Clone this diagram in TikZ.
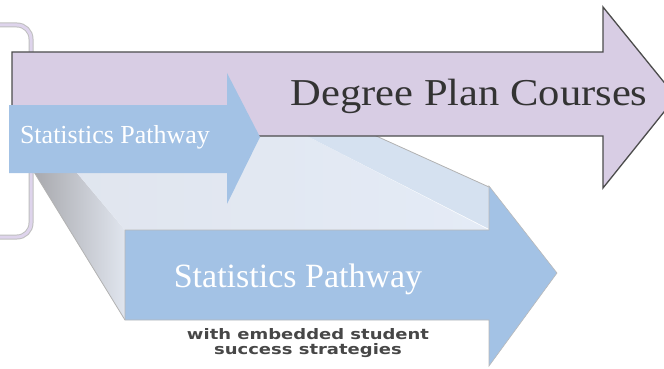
\documentclass[tikz,border=0pt]{standalone}
\usepackage{fontspec}
\setmainfont{Liberation Serif}
\newfontfamily\notefont{DejaVu Sans}
\usepackage{tikz}
\usetikzlibrary{
    positioning,
    calc,
    backgrounds
}
\definecolor{planpurple}{RGB}{216,205,228}
\definecolor{pathblue}{RGB}{163,194,229}
\definecolor{toplight}{RGB}{228,235,246}
\definecolor{headlight}{RGB}{213,225,240}
\definecolor{sidedark}{RGB}{158,158,162}
\definecolor{sidelight}{RGB}{224,229,238}
\definecolor{bracketlav}{RGB}{222,212,236}
\tikzset{
    planarrow/.style={
        draw=black!70, line width=1.3pt, fill=planpurple, line join=miter
    },
    patharrow/.style={
        fill=pathblue
    },
    frontface/.style={
        fill=pathblue, draw=gray!55, line width=0.6pt
    },
    edgeline/.style={
        draw=gray!60, line width=0.8pt
    },
    plantext/.style={
        font=\fontsize{38}{40}\selectfont, text=black!80, inner sep=0pt
    },
    pathtext/.style={
        text=white, inner sep=0pt
    }
}

\begin{document}
\begin{tikzpicture}[
    x=1pt, y=-1pt,
    bracketline/.style={line width=5pt, rounded corners=14pt},
    notetext/.style={font=\notefont\bfseries\fontsize{14.5}{15}\selectfont, text=black!72, inner sep=0pt}
]
    \useasboundingbox (0,0) rectangle (664,369);
    \clip (0,0) rectangle (664,369);

    % --- BRACKET ---
    \draw[bracketline, draw=gray!50] (-10,25) -- (31,25) -- (31,237) -- (-10,237);
    \draw[bracketline, line width=3pt, draw=bracketlav] (-10,25) -- (31,25) -- (31,237) -- (-10,237);

    % --- 3D EXTRUSION OF THE LOWER PATHWAY ---
    \shade[left color=sidedark, right color=sidelight] (125,230) -- (125,320) -- (18,146) -- (45,135) -- cycle;
    \shade[left color=sidelight, right color=toplight] (125,230) -- (489,230) -- (305,135) -- (45,135) -- cycle;
    \fill[headlight] (489,187) -- (489,229) -- (305,135) -- (374,135) -- cycle;
    \draw[edgeline] (374,135) -- (489,187);
    \draw[edgeline] (125,320) -- (18,146);

    % --- DEGREE PLAN ARROW ---
    \draw[planarrow] (12,52) -- (603,52) -- (603,7) -- (676,97) -- (603,188) -- (603,136) -- (12,136) -- cycle;
    \node[plantext, anchor=base] (plan) at (469,105) {\scalebox{1.12}[1]{Degree Plan Courses}};

    % --- UPPER PATHWAY ---
    \fill[patharrow] (9,105) -- (227,105) -- (227,73) -- (260,137) -- (227,204) -- (227,173) -- (9,173) -- cycle;
    \node[pathtext, font=\fontsize{26}{28}\selectfont, anchor=base] (path1) at (115,143) {Statistics Pathway};

    % --- LOWER PATHWAY (FRONT) ---
    \draw[frontface] (125,230) -- (489,230) -- (489,186) -- (557,273) -- (489,366) -- (489,320) -- (125,320) -- cycle;
    \node[pathtext, font=\fontsize{34}{36}\selectfont, anchor=base] (path2) at (298,287) {Statistics Pathway};

    % --- NOTE ---
    \node[notetext, anchor=base] (note1) at (308,339) {\scalebox{1.24}[1]{with embedded student}};
    \node[notetext, anchor=base] (note2) at (308,354) {\scalebox{1.24}[1]{success strategies}};

\end{tikzpicture}
\end{document}
